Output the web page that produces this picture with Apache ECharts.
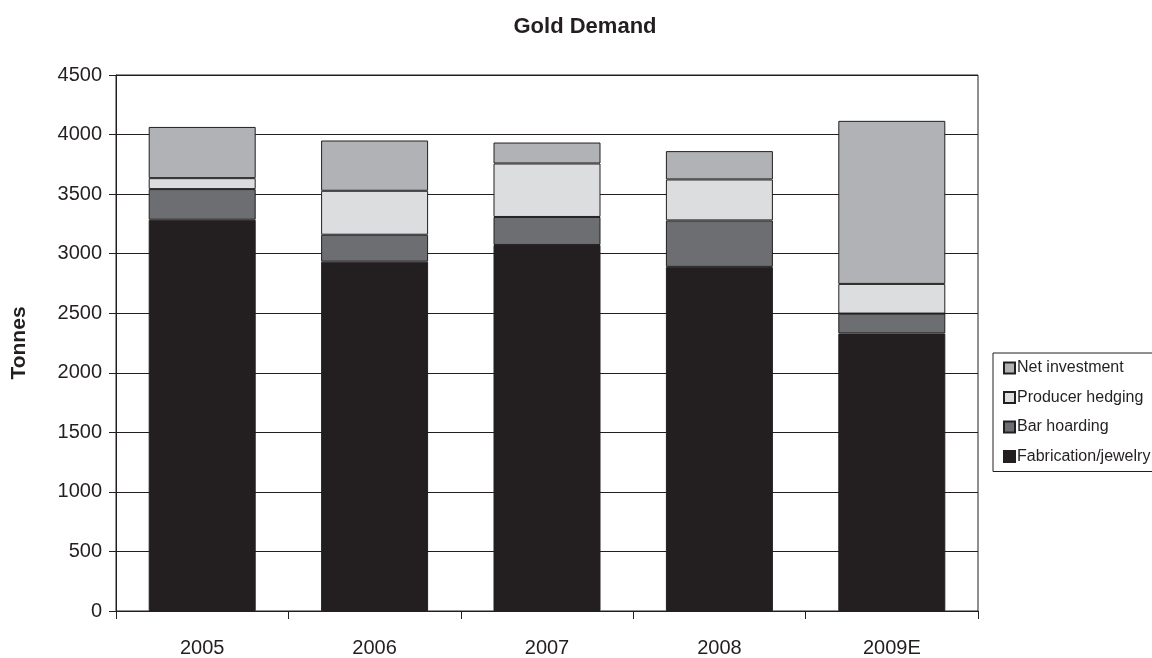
<!DOCTYPE html>
<html>
<head>
<meta charset="utf-8">
<script src="https://cdn.jsdelivr.net/npm/echarts@6/dist/echarts.min.js"></script>
<style>
  html, body { margin: 0; padding: 0; background: #fff; }
  #chart { width: 1152px; height: 658px; }
</style>
</head>
<body>
<div id="chart"></div>
<script>
// Gold demand by use, tonnes per year
const years = ['2005', '2006', '2007', '2008', '2009E'];
const fabrication = [3285, 2933, 3073, 2889, 2330];
const barHoarding = [257, 226, 235, 390, 167];
const producerHedging = [92, 369, 449, 344, 249];
const netInvestment = [430, 422, 176, 238, 1369];
const yTicks = [0, 500, 1000, 1500, 2000, 2500, 3000, 3500, 4000, 4500];

const FONT = '"Liberation Sans", Arial, Helvetica, sans-serif';
const INK = '#231f20';

function layer(name, data, color) {
  return {
    name: name,
    type: 'bar',
    stack: 'demand',
    data: data,
    barWidth: 107,
    itemStyle: { color: color, borderColor: INK, borderWidth: 1 }
  };
}

const chart = echarts.init(document.getElementById('chart'));
chart.setOption({
  animation: false,
  backgroundColor: '#ffffff',
  title: {
    text: 'Gold Demand',
    left: 580,
    top: 11,
    textAlign: 'center',
    textStyle: { fontFamily: FONT, fontSize: 22, fontWeight: 'bold', color: INK }
  },
  legend: {
    orient: 'vertical',
    left: 993,
    top: 353,
    padding: [7, 10, 7, 10],
    itemWidth: 11,
    itemHeight: 11,
    itemGap: 13.5,
    borderColor: INK,
    borderWidth: 1,
    icon: 'rect',
    data: ['Net investment', 'Producer hedging', 'Bar hoarding', 'Fabrication/jewelry'],
    textStyle: { fontFamily: FONT, fontSize: 16, color: INK, padding: [0, 0, 0, -3], lineHeight: 16 }
  },
  grid: {
    left: 116,
    top: 75,
    width: 862,
    height: 537,
    show: true,
    borderColor: INK,
    borderWidth: 1,
    containLabel: false
  },
  xAxis: {
    type: 'category',
    data: years,
    boundaryGap: true,
    axisLine: { lineStyle: { color: INK, width: 1 } },
    axisTick: { show: true, length: 8, lineStyle: { color: INK } },
    axisLabel: { margin: 27, fontFamily: FONT, fontSize: 20, color: INK }
  },
  yAxis: {
    type: 'value',
    min: 0,
    max: 4500,
    interval: 500,
    name: 'Tonnes',
    nameLocation: 'middle',
    nameGap: 86,
    nameTextStyle: { fontFamily: FONT, fontSize: 21, fontWeight: 'bold', color: INK },
    axisLine: { show: true, lineStyle: { color: INK, width: 1 } },
    axisTick: { show: true, length: 7, lineStyle: { color: INK } },
    axisLabel: {
      margin: 14,
      fontFamily: FONT,
      fontSize: 20,
      color: INK,
      formatter: function (v) { return yTicks.indexOf(v) >= 0 ? String(v) : ''; }
    },
    splitLine: { show: true, lineStyle: { color: INK, width: 1 } }
  },
  series: [
    layer('Fabrication/jewelry', fabrication, '#231f20'),
    layer('Bar hoarding', barHoarding, '#6d6e71'),
    layer('Producer hedging', producerHedging, '#dcdddf'),
    layer('Net investment', netInvestment, '#b1b2b5')
  ]
});
</script>
</body>
</html>
